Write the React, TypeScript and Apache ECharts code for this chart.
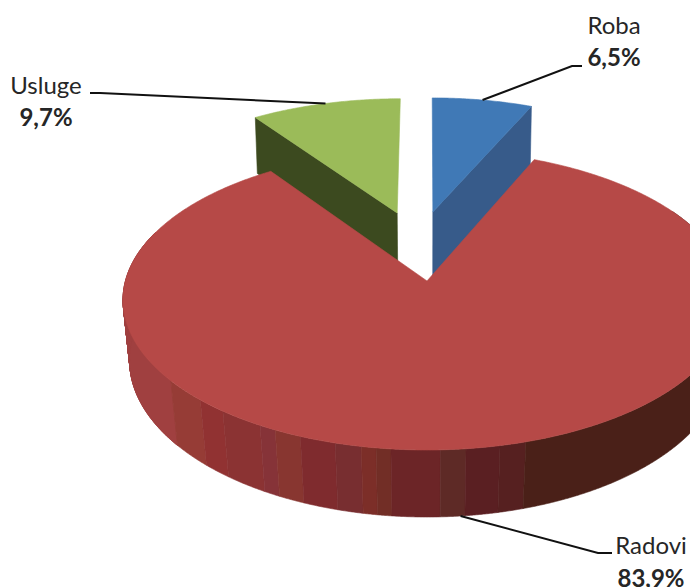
import React, { useEffect, useRef } from "react";
import * as echarts from "echarts";

const categories = ["Roba", "Radovi", "Usluge"];
const values = [6.5, 83.9, 9.7];
const sliceTop = ["#4079b6", "#b64947", "#9bbb59"];
const sliceSide = ["#375b8a", "#4a2018", "#3c4a1f"];
const paintOrder = [2, 0, 1];
const explodeX = [0.0206, 0, -0.105];
const explodeY = [0.497, 0, 0.489];
const sliceRadius = [0.975, 1, 0.975];
const extraDepth = [6, 0, 0];
const bandEndX = [170, 200, 222, 260, 275, 300, 335, 360, 375, 390, 440, 465, 500, 525, 9999];
const bandColor = ["#a04040", "#963c36", "#913232", "#8b3333", "#863338", "#883630", "#7f2b2e", "#782e30", "#7c2e28", "#722e26", "#6c2527", "#5e2a26", "#5a1f22", "#562020", "#4a2018"];
const leaderElbows = [[[572, 66], [582, 66]], [[598, 553], [612, 553]], [[100, 93], [90, 93]]];
const labelPos = [[614, 24, 56], [651, 544, 577], [46, 84, 116]];

const CX = 427, CY = 300, RX = 304, RY = 150, A = 0.127;
const total = values.reduce((s, v) => s + v, 0);
const rad = (d: number) => (d * Math.PI) / 180;

const startAngle = (i: number) => (values.slice(0, i).reduce((s, v) => s + v, 0) / total) * 360;
const endAngle = (i: number) => startAngle(i) + (values[i] / total) * 360;

function project(x: number, y: number): number[] {
  const w = 1 + A * y;
  return [CX + (RX * x * Math.sqrt(1 - A * A)) / w, CY - (RY * (y + A)) / w];
}
function rim(i: number, deg: number): number[] {
  const r = sliceRadius[i];
  return project(explodeX[i] + r * Math.sin(rad(deg)), explodeY[i] + r * Math.cos(rad(deg)));
}
function apex(i: number): number[] {
  return project(explodeX[i], explodeY[i]);
}
function lower(p: number[], extra = 0): number[] {
  const sx = 0.988 - ((p[1] - 118) / 332) * 0.018;
  const depth = 56 + ((p[1] - 118) * 11) / 332 + extra;
  return [CX + (p[0] - CX) * sx, p[1] + depth];
}
function arc(i: number): number[][] {
  const pts: number[][] = [];
  const a = startAngle(i), b = endAngle(i);
  const n = Math.ceil((b - a) * 2);
  for (let k = 0; k <= n; k++) pts.push(rim(i, a + ((b - a) * k) / n));
  return pts;
}
const poly = (points: number[][], fill: string) => ({
  type: "polygon",
  shape: { points },
  style: { fill, stroke: fill, lineWidth: 0.6 },
  silent: true,
});

function renderSlice(_p: any, api: any) {
  const i = api.value(1);
  const children: any[] = [];
  const arcPts = arc(i);
  const top = [apex(i), ...arcPts];
  if (i === 1) {
    let current = -1;
    let topRun: number[][] = [];
    const flush = () => {
      if (topRun.length > 1) {
        children.push(poly([...topRun, ...topRun.map((p) => lower(p)).reverse()], bandColor[current]));
      }
    };
    for (let d = 290; d >= 60; d -= 0.25) {
      const p = rim(1, d);
      const band = bandEndX.findIndex((e) => p[0] < e);
      if (band === 0) {
        const q = rim(1, d - 0.25);
        children.push(poly([p, q, lower(q), lower(p)], bandColor[0]));
      }
      if (band !== current) {
        if (current >= 0) {
          topRun.push(p);
          flush();
        }
        current = band;
        topRun = [];
      }
      topRun.push(p);
    }
    flush();
  } else {
    const corner = i === 0 ? arcPts[arcPts.length - 1] : arcPts[0];
    const ap = apex(i);
    children.push(poly([corner, ap, lower(ap, extraDepth[i]), lower(corner, extraDepth[i])], sliceSide[i]));
  }
  children.push(poly(top, sliceTop[i]));
  return { type: "group", children };
}

function leader(i: number) {
  const mid = (startAngle(i) + endAngle(i)) / 2;
  const start = i === 1 ? lower(rim(i, mid)) : rim(i, mid);
  return {
    type: "polyline",
    shape: { points: [start, ...leaderElbows[i]] },
    style: { fill: "none", stroke: "#111111", lineWidth: 2 },
    z: 10,
    silent: true,
  };
}
function labels(i: number) {
  const [x, y1, y2] = labelPos[i];
  const text = (t: string, y: number, weight: string) => ({
    type: "text",
    x,
    y,
    z: 11,
    silent: true,
    style: {
      text: t,
      fill: "#262626",
      font: `${weight} 24px Lato, Carlito, sans-serif`,
      align: "center",
      verticalAlign: "middle",
    },
  });
  return [
    text(categories[i], y1, "normal"),
    text(`${values[i].toFixed(1).replace(".", ",")}%`, y2, "bold"),
  ];
}

export default function App() {
  const ref = useRef<HTMLDivElement>(null);
  useEffect(() => {
    const chart = echarts.init(ref.current!, undefined, { renderer: "svg" });
    chart.setOption({
      animation: false,
      backgroundColor: "#ffffff",
      series: [
        {
          type: "custom",
          coordinateSystem: "none",
          clip: false,
          silent: true,
          renderItem: renderSlice,
          data: paintOrder.map((i) => ({ name: categories[i], value: [values[i], i] })),
        },
      ],
      graphic: categories.flatMap((_c, i) => [leader(i), ...labels(i)]),
    });
    return () => chart.dispose();
  }, []);
  return (
    <div
      ref={ref}
      style={{ position: "absolute", left: 0, top: 0, width: 690, height: 587, overflow: "hidden" }}
    />
  );
}
